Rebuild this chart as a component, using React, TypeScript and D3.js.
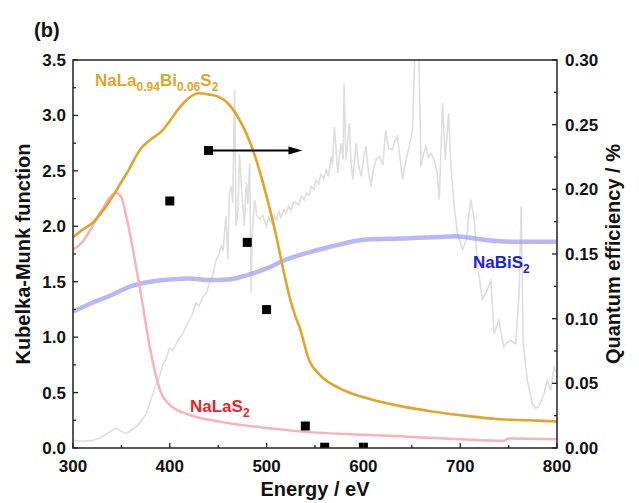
import React from "react";
import * as d3 from "d3";

// NaLa0.94Bi0.06S2 Kubelka-Munk spectrum
const goldE = [300, 310, 320, 330, 341, 350, 357, 363, 370, 380, 393, 400, 410, 420, 430, 440, 450, 460, 470, 480, 490, 500, 510, 515, 520, 525, 530, 534, 544, 555, 575, 603, 637, 671, 706, 740, 770, 800];
const goldKM = [1.9, 1.97, 2.03, 2.13, 2.27, 2.4, 2.5, 2.6, 2.7, 2.78, 2.87, 2.95, 3.07, 3.16, 3.2, 3.19, 3.17, 3.11, 2.99, 2.82, 2.58, 2.27, 1.91, 1.7, 1.5, 1.32, 1.18, 1.09, 0.79, 0.66, 0.54, 0.45, 0.38, 0.33, 0.29, 0.26, 0.25, 0.24];

// NaLaS2 Kubelka-Munk spectrum
const pinkE = [300, 310, 320, 330, 340, 345, 350, 355, 360, 365, 370, 375, 380, 385, 390, 400, 420, 450, 500, 534, 600, 650, 700, 745, 750, 800];
const pinkKM = [1.79, 1.86, 2.0, 2.15, 2.28, 2.3, 2.26, 2.09, 1.88, 1.64, 1.4, 1.13, 0.88, 0.68, 0.52, 0.39, 0.3, 0.24, 0.18, 0.15, 0.12, 0.1, 0.08, 0.066, 0.085, 0.08];

// NaBiS2 Kubelka-Munk spectrum
const blueE = [300, 320, 340, 360, 380, 400, 420, 440, 460, 480, 500, 520, 534, 568, 603, 637, 671, 694, 723, 757, 800];
const blueKM = [1.23, 1.31, 1.38, 1.46, 1.5, 1.52, 1.53, 1.515, 1.52, 1.56, 1.62, 1.7, 1.74, 1.82, 1.88, 1.89, 1.9, 1.91, 1.88, 1.86, 1.86];

// Lamp emission spectrum (arbitrary units on the left scale)
const lampE = [300, 310, 320.6, 328, 334, 340, 344.7, 350, 355, 360, 365, 370, 375.6, 381, 386, 390, 393, 396, 399.7, 403, 406.5, 410, 413, 416, 420, 424, 427, 430, 434, 437.8, 441, 444, 448, 451, 453, 455, 458, 460, 461.5, 463.6, 465, 467, 468.5, 470.4, 472, 474, 477, 479, 480.5, 482.5, 484, 485, 487.6, 490, 492.8, 496, 499.7, 502, 505, 508, 510, 513, 515, 518, 520, 523, 525, 528, 530.6, 533, 536, 539, 541, 544, 546, 549, 551, 554, 556, 559, 561.5, 564, 566.7, 568, 570, 573.5, 575, 577, 579, 580, 582, 585.6, 587, 589, 592.5, 595, 597.6, 600, 602.8, 605, 608, 610, 613, 616.5, 620, 623, 626, 630, 632, 635, 638, 640.5, 643, 645.7, 648, 650.8, 653.6, 655, 657, 659.5, 662, 664.6, 667, 669.8, 673, 676, 678.4, 681.8, 684.5, 688, 690, 693.8, 697, 702.4, 706.5, 709, 711, 714.4, 718, 723, 726.5, 729, 731.7, 735, 740, 745, 748, 752, 757.4, 760.8, 763, 765, 769.4, 774.5, 778, 781, 786.6, 790, 793.5, 797, 800];
const lampKM = [0.07, 0.06, 0.07, 0.09, 0.12, 0.16, 0.18, 0.15, 0.13, 0.16, 0.19, 0.24, 0.31, 0.45, 0.58, 0.66, 0.76, 0.8, 0.9, 0.88, 0.94, 0.99, 1.03, 1.08, 1.15, 1.22, 1.31, 1.28, 1.36, 1.4, 1.49, 1.55, 1.7, 1.75, 1.82, 1.78, 2.09, 1.7, 2.3, 2.36, 2.21, 3.23, 2.0, 2.15, 2.65, 2.36, 2.0, 2.4, 2.2, 2.57, 1.4, 1.9, 2.24, 2.1, 2.06, 2.1, 2.0, 2.08, 2.03, 2.1, 2.06, 2.13, 2.08, 2.15, 2.12, 2.18, 2.14, 2.22, 2.21, 2.19, 2.27, 2.24, 2.3, 2.28, 2.36, 2.33, 2.42, 2.38, 2.47, 2.43, 2.51, 2.45, 2.63, 2.55, 2.9, 2.48, 2.62, 2.75, 2.6, 3.29, 2.6, 2.93, 2.6, 2.42, 2.75, 2.55, 2.45, 2.6, 2.72, 2.5, 2.36, 2.5, 2.6, 2.63, 2.55, 2.87, 2.7, 2.69, 2.76, 2.81, 2.6, 2.42, 2.55, 2.66, 2.75, 2.87, 3.7, 3.6, 3.7, 2.54, 2.65, 2.72, 2.62, 2.66, 2.6, 2.5, 2.24, 3.11, 2.6, 3.02, 2.6, 2.18, 1.94, 1.79, 1.88, 2.1, 2.24, 2.06, 1.64, 1.34, 1.4, 1.45, 1.52, 1.03, 1.15, 0.91, 0.95, 0.97, 0.94, 1.4, 2.18, 0.94, 0.61, 0.4, 0.36, 0.37, 0.49, 0.61, 0.52, 0.73, 0.67];

// Quantum efficiency measurements (right scale)
const qeE = [400, 440, 480, 500, 540, 560, 600];
const qeVal = [0.191, 0.23, 0.159, 0.107, 0.017, 0.0006, 0.0006];

const xTicks = [300, 400, 500, 600, 700, 800];
const yLeftTicks = [0, 0.5, 1.0, 1.5, 2.0, 2.5, 3.0, 3.5];
const yRightTicks = [0, 0.05, 0.1, 0.15, 0.2, 0.25, 0.3];

const W = 639;
const H = 503;
const m = { left: 73, right: 557, top: 60, bottom: 448 };
const FONT = "Arial, 'Liberation Sans', sans-serif";

export default function App() {
  const x = d3.scaleLinear().domain([300, 800]).range([m.left, m.right]);
  const yL = d3.scaleLinear().domain([0, 3.5]).range([m.bottom, m.top]);
  const yR = d3.scaleLinear().domain([0, 0.3]).range([m.bottom, m.top]);

  const path = (es: number[], vs: number[], curve = d3.curveMonotoneX) =>
    d3
      .line<number>()
      .x((_, i) => x(es[i]))
      .y((v) => yL(v))
      .curve(curve)(vs) || "";

  const xMinor = d3.range(300, 801, 50);
  const yLMinor = d3.range(0, 3.51, 0.25);
  const yRMinor = d3.range(0, 0.301, 0.025);
  const tickLen = 5;
  const minorLen = 3;

  const arrowY = yR(qeVal[1]);
  const arrowX0 = x(qeE[1]);
  const arrowX1 = x(537);

  return (
    <svg
      width={W}
      height={H}
      style={{ position: "absolute", left: 0, top: 0, background: "#fff" }}
      fontFamily={FONT}
    >
      <defs>
        <clipPath id="plot">
          <rect x={m.left} y={m.top} width={m.right - m.left} height={m.bottom - m.top} />
        </clipPath>
      </defs>

      <text x={34} y={37} fontSize={20} fontWeight="bold" fill="#111">(b)</text>

      <g clipPath="url(#plot)">
        <path d={path(lampE, lampKM, d3.curveLinear)} fill="none" stroke="#dedede" strokeWidth={1.6} />
        <path d={path(blueE, blueKM)} fill="none" stroke="#9a9af5" strokeOpacity={0.7} strokeWidth={4.5} />
        <path d={path(pinkE, pinkKM)} fill="none" stroke="#f6b3b8" strokeWidth={2.5} />
        <path d={path(goldE, goldKM)} fill="none" stroke="#dfa62c" strokeWidth={2.6} />
        {qeE.map((e, i) => (
          <rect key={i} x={x(e) - 4.5} y={yR(qeVal[i]) - 4.5} width={9} height={9} fill="#000" />
        ))}
      </g>

      {/* arrow pointing to the right-hand scale */}
      <line x1={arrowX0} y1={arrowY} x2={arrowX1 - 12} y2={arrowY} stroke="#000" strokeWidth={2} />
      <path d={`M${arrowX1},${arrowY} L${arrowX1 - 14},${arrowY - 4} L${arrowX1 - 14},${arrowY + 4} Z`} fill="#000" />

      {/* frame */}
      <rect x={m.left} y={m.top} width={m.right - m.left} height={m.bottom - m.top} fill="none" stroke="#222" strokeWidth={1.5} />

      {/* bottom axis */}
      {xMinor.map((t) => (
        <line key={"xm" + t} x1={x(t)} x2={x(t)} y1={m.bottom} y2={m.bottom - (t % 100 === 0 ? tickLen : minorLen)} stroke="#222" strokeWidth={1.3} />
      ))}
      {xTicks.map((t) => (
        <text key={"xt" + t} x={x(t)} y={m.bottom + 24} fontSize={17} fontWeight="bold" textAnchor="middle" fill="#111">
          {t}
        </text>
      ))}

      {/* left axis */}
      {yLMinor.map((t, i) => (
        <line key={"ylm" + i} x1={m.left} x2={m.left + (i % 2 === 0 ? tickLen : minorLen)} y1={yL(t)} y2={yL(t)} stroke="#222" strokeWidth={1.3} />
      ))}
      {yLeftTicks.map((t) => (
        <text key={"yl" + t} x={m.left - 7} y={yL(t) + 6} fontSize={17} fontWeight="bold" textAnchor="end" fill="#111">
          {t.toFixed(1)}
        </text>
      ))}

      {/* right axis */}
      {yRMinor.map((t, i) => (
        <line key={"yrm" + i} x1={m.right} x2={m.right - (i % 2 === 0 ? tickLen : minorLen)} y1={yR(t)} y2={yR(t)} stroke="#222" strokeWidth={1.3} />
      ))}
      {yRightTicks.map((t) => (
        <text key={"yr" + t} x={m.right + 8} y={yR(t) + 6} fontSize={17} fontWeight="bold" textAnchor="start" fill="#111">
          {t.toFixed(2)}
        </text>
      ))}

      {/* axis titles */}
      <text x={(m.left + m.right) / 2} y={496} fontSize={20} fontWeight="bold" textAnchor="middle" fill="#111">
        Energy / eV
      </text>
      <text transform={`translate(30,${(m.top + m.bottom) / 2}) rotate(-90)`} fontSize={20} fontWeight="bold" textAnchor="middle" fill="#111">
        Kubelka-Munk function
      </text>
      <text transform={`translate(620,${(m.top + m.bottom) / 2}) rotate(-90)`} fontSize={20} fontWeight="bold" textAnchor="middle" fill="#111">
        Quantum efficiency / %
      </text>

      {/* series labels */}
      <text x={95} y={86} fontSize={17} fontWeight="bold" fill="#dfa62c">
        NaLa<tspan fontSize={12} dy={5}>0.94</tspan>
        <tspan dy={-5}>Bi</tspan>
        <tspan fontSize={12} dy={5}>0.06</tspan>
        <tspan dy={-5}>S</tspan>
        <tspan fontSize={12} dy={5}>2</tspan>
      </text>
      <text x={190} y={412} fontSize={17} fontWeight="bold" fill="#e8252b">
        NaLaS<tspan fontSize={12} dy={5}>2</tspan>
      </text>
      <text x={473} y={268} fontSize={17} fontWeight="bold" fill="#2020dd">
        NaBiS<tspan fontSize={12} dy={5}>2</tspan>
      </text>
    </svg>
  );
}
